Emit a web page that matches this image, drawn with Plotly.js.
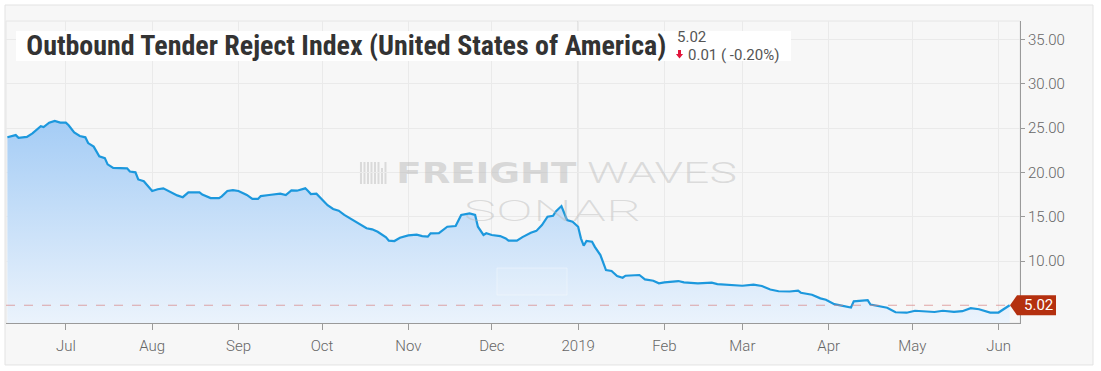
<!DOCTYPE html>
<html>
<head>
<meta charset="utf-8">
<script src="https://cdn.plot.ly/plotly-3.0.1.min.js"></script>
<style>
  html, body { margin: 0; padding: 0; background: #ffffff; }
  #chart { width: 1101px; height: 371px; }
</style>
</head>
<body>
<div id="chart"></div>
<script>
// ---- data ----
const dates = [
  '2018-06-10','2018-06-13','2018-06-14','2018-06-17','2018-06-19','2018-06-22','2018-06-23','2018-06-25','2018-06-27','2018-06-29',
  '2018-07-01','2018-07-02','2018-07-04','2018-07-06','2018-07-08','2018-07-09','2018-07-11','2018-07-13','2018-07-15','2018-07-16',
  '2018-07-18','2018-07-23','2018-07-24','2018-07-26','2018-07-27','2018-07-29','2018-08-01','2018-08-03','2018-08-05','2018-08-08',
  '2018-08-10','2018-08-12','2018-08-14','2018-08-18','2018-08-19','2018-08-22','2018-08-25','2018-08-26','2018-08-28','2018-08-30',
  '2018-09-01','2018-09-04','2018-09-06','2018-09-08','2018-09-09','2018-09-12','2018-09-15','2018-09-16','2018-09-18','2018-09-20',
  '2018-09-22','2018-09-25','2018-09-26','2018-09-27','2018-09-29','2018-10-01','2018-10-03','2018-10-05','2018-10-07','2018-10-09',
  '2018-10-12','2018-10-13','2018-10-15','2018-10-17','2018-10-19','2018-10-21','2018-10-24','2018-10-25','2018-10-27','2018-10-29',
  '2018-11-01','2018-11-04','2018-11-06','2018-11-08','2018-11-09','2018-11-12','2018-11-15','2018-11-18','2018-11-20','2018-11-22',
  '2018-11-23','2018-11-25','2018-11-26','2018-11-28','2018-11-29','2018-12-01','2018-12-04','2018-12-06','2018-12-07','2018-12-10',
  '2018-12-12','2018-12-15','2018-12-17','2018-12-19','2018-12-21','2018-12-23','2018-12-24','2018-12-26','2018-12-28','2018-12-30',
  '2019-01-01','2019-01-02','2019-01-03','2019-01-04','2019-01-06','2019-01-07','2019-01-09','2019-01-11','2019-01-13','2019-01-15',
  '2019-01-17','2019-01-18','2019-01-23','2019-01-25','2019-01-28','2019-01-30','2019-02-01','2019-02-06','2019-02-08','2019-02-13',
  '2019-02-18','2019-02-20','2019-02-25','2019-03-01','2019-03-05','2019-03-08','2019-03-11','2019-03-14','2019-03-18','2019-03-21',
  '2019-03-22','2019-03-26','2019-03-29','2019-03-31','2019-04-03','2019-04-08','2019-04-09','2019-04-10','2019-04-15','2019-04-16',
  '2019-04-20','2019-04-22','2019-04-25','2019-04-29','2019-05-02','2019-05-05','2019-05-09','2019-05-12','2019-05-16','2019-05-19',
  '2019-05-22','2019-05-25','2019-05-29','2019-06-01','2019-06-04','2019-06-05'
];
const rejectIndex = [
  23.95,24.2,23.9,24.0,24.4,25.2,25.1,25.6,25.8,25.6,
  25.6,25.3,24.5,24.1,23.95,23.3,22.9,21.8,21.6,20.9,
  20.5,20.45,20.1,20.0,19.2,19.0,17.9,18.1,18.2,17.7,
  17.4,17.2,17.75,17.75,17.5,17.1,17.1,17.3,17.9,18.0,
  17.9,17.45,17.0,17.0,17.33,17.45,17.5,17.6,17.45,17.97,
  17.93,18.2,17.9,17.55,17.6,16.96,16.3,15.87,15.68,15.2,
  14.6,14.44,14.06,13.7,13.58,13.3,12.68,12.3,12.26,12.63,
  12.9,12.97,12.82,12.75,13.13,13.16,13.87,13.95,15.2,15.3,
  15.38,15.2,13.87,12.94,13.13,12.94,12.82,12.56,12.3,12.3,
  12.7,13.2,13.4,14.06,15.0,15.1,15.6,16.2,14.63,14.44,
  13.87,12.56,11.73,12.26,12.18,11.6,10.68,8.99,8.88,8.32,
  8.12,8.35,8.43,7.94,7.78,7.49,7.6,7.75,7.6,7.49,
  7.56,7.41,7.30,7.22,7.34,7.19,6.8,6.6,6.57,6.66,
  6.43,6.2,5.8,5.65,5.14,4.9,4.77,5.46,5.6,5.1,
  4.82,4.74,4.23,4.18,4.4,4.32,4.26,4.4,4.28,4.35,
  4.69,4.57,4.2,4.2,4.79,5.02
];
const tickDates = ['2018-07-01','2018-08-01','2018-09-01','2018-10-01','2018-11-01','2018-12-01',
                   '2019-01-01','2019-02-01','2019-03-01','2019-04-01','2019-05-01','2019-06-01'];
const tickLabels = ['Jul','Aug','Sep','Oct','Nov','Dec','2019','Feb','Mar','Apr','May','Jun'];
const yTicks = [10, 15, 20, 25, 30, 35];
const chartTitle = 'Outbound Tender Reject Index (United States of America)';
const changeAbs = '0.01';
const changePct = '-0.20%';

// ---- derived ----
const lastValue = rejectIndex[rejectIndex.length - 1];
const lastLabel = lastValue.toFixed(2);

const trace = {
  x: dates, y: rejectIndex, type: 'scatter', mode: 'lines',
  line: { color: '#1c98dd', width: 2.2 },
  fill: 'tozeroy',
  fillgradient: { type: 'vertical', start: 3, stop: 26,
    colorscale: [[0, 'rgb(235,243,252)'], [1, 'rgb(164,204,245)']] },
  hoverinfo: 'skip'
};

// logo bars of the watermark (decoration)
let logoPath = '';
const barH = [22, 22, 22, 22, 22, 22, 16, 22];
for (let i = 0; i < barH.length; i++) {
  const x0 = i * 3.5, x1 = x0 + 2;
  logoPath += `M ${x0},0 L ${x1},0 L ${x1},${barH[i]} L ${x0},${barH[i]} Z `;
}

const shapes = [
  // card
  { type: 'rect', xref: 'paper', yref: 'paper', x0: -0.001, x1: 1.072, y0: -0.139, y1: 1.053,
    fillcolor: '#f7f7f7', line: { color: '#e3e3e3', width: 1 }, layer: 'below' },
  // plot frame
  { type: 'rect', xref: 'paper', yref: 'paper', x0: 0, x1: 1, y0: 0, y1: 1,
    fillcolor: 'rgba(0,0,0,0)', line: { color: '#e6e6e6', width: 1 }, layer: 'below' },
  // year separator
  { type: 'line', xref: 'x', yref: 'paper', x0: tickDates[6], x1: tickDates[6], y0: 0, y1: 1,
    line: { color: '#c6c6c6', width: 1 }, layer: 'below' },
  // logo
  { type: 'path', xref: 'paper', yref: 'paper', xsizemode: 'pixel', ysizemode: 'pixel',
    xanchor: 0.3491, yanchor: 0.4603, path: logoPath,
    fillcolor: 'rgba(190,190,190,0.5)', line: { width: 0 }, layer: 'below' },
  // faint box
  { type: 'rect', xref: 'paper', yref: 'paper', x0: 0.4842, x1: 0.5533, y0: 0.0927, y1: 0.1821,
    fillcolor: 'rgba(255,255,255,0.1)', line: { color: 'rgba(255,255,255,0.35)', width: 1 }, layer: 'above' },
  // last value dashed line
  { type: 'line', xref: 'paper', yref: 'y', x0: 0, x1: 1, y0: lastValue, y1: lastValue,
    line: { color: 'rgba(215,130,130,0.7)', width: 1, dash: 'dash' }, layer: 'above' },
  // title box
  { type: 'rect', xref: 'paper', yref: 'paper', x0: 0.00986, x1: 0.7742, y0: 0.8675, y1: 0.9669,
    fillcolor: '#ffffff', line: { width: 0 }, layer: 'above' },
  // red down arrow
  { type: 'path', xref: 'paper', yref: 'paper', xsizemode: 'pixel', ysizemode: 'pixel',
    xanchor: 0.6642, yanchor: 0.8907,
    path: 'M -1.5,4 L 1.5,4 L 1.5,0 L 3.6,0 L 0,-4.5 L -3.6,0 L -1.5,0 Z',
    fillcolor: '#e2163c', line: { width: 0 }, layer: 'above' },
  // last value tag
  { type: 'path', xref: 'paper', yref: 'y', xsizemode: 'pixel', ysizemode: 'pixel',
    xanchor: 1, yanchor: lastValue,
    path: 'M -10,0 L -3,10 L 36,10 L 36,-10 L -3,-10 Z',
    fillcolor: '#b4300f', line: { width: 0 }, layer: 'above' }
];

const annotations = [
  { xref: 'paper', yref: 'paper', x: 0.474, y: 0.4957, text: 'FREIGHT', showarrow: false,
    xanchor: 'center', yanchor: 'middle',
    font: { family: 'DejaVu Sans', size: 29, weight: 700, color: 'rgba(185,185,185,0.5)' } },
  { xref: 'paper', yref: 'paper', x: 0.6466, y: 0.4957, text: 'WAVES', showarrow: false,
    xanchor: 'center', yanchor: 'middle',
    font: { family: 'Roboto', size: 29, weight: 300, color: 'rgba(185,185,185,0.45)' } },
  { xref: 'paper', yref: 'paper', x: 0.539, y: 0.3715, text: 'SONAR', showarrow: false,
    xanchor: 'center', yanchor: 'middle',
    font: { family: 'DejaVu Sans ExtraLight, Roboto', size: 30, weight: 200, color: 'rgba(185,185,185,0.45)' } },
  { xref: 'paper', yref: 'paper', x: 0.3359, y: 0.9205, text: chartTitle, showarrow: false,
    xanchor: 'center', yanchor: 'middle',
    font: { family: 'Roboto Condensed, Liberation Sans Narrow, Roboto', size: 28, weight: 700, color: '#333333' } },
  { xref: 'paper', yref: 'paper', x: 0.6607, y: 0.948, text: lastLabel, showarrow: false,
    xanchor: 'left', yanchor: 'middle', borderpad: 0,
    font: { family: 'Roboto', size: 15, color: '#555555' } },
  { xref: 'paper', yref: 'paper', x: 0.6716, y: 0.8874, text: changeAbs + ' ( ' + changePct + ')', showarrow: false,
    xanchor: 'left', yanchor: 'middle', borderpad: 0,
    font: { family: 'Roboto', size: 15, color: '#555555' } },
  { xref: 'paper', yref: 'y', x: 1.0178, y: lastValue, text: lastLabel, showarrow: false,
    xanchor: 'center', yanchor: 'middle',
    font: { family: 'Roboto', size: 15, color: '#ffffff' } }
];

const layout = {
  width: 1101, height: 371,
  margin: { l: 6, r: 81, t: 21, b: 48 },
  paper_bgcolor: '#ffffff', plot_bgcolor: '#f7f7f7',
  showlegend: false, hovermode: false,
  font: { family: 'Roboto', color: '#6a6a6a' },
  xaxis: {
    type: 'date', range: ['2018-06-09 12:00', '2019-06-08 17:00'],
    tickvals: tickDates, ticktext: tickLabels,
    ticks: 'outside', ticklen: 6, tickcolor: '#9a9a9a', ticklabelstandoff: 3,
    showline: true, linecolor: '#9a9a9a', linewidth: 1,
    showgrid: true, gridcolor: '#eaeaea', zeroline: false,
    tickfont: { family: 'Roboto', size: 15, weight: 300, color: '#666666' }
  },
  yaxis: {
    side: 'right', range: [3.02, 37.06],
    tickvals: yTicks, tickformat: '.2f',
    ticks: 'outside', ticklen: 4, tickcolor: '#9a9a9a',
    showline: true, linecolor: '#9a9a9a', linewidth: 1,
    showgrid: true, gridcolor: '#eaeaea', zeroline: false,
    tickfont: { family: 'Roboto', size: 15, weight: 300, color: '#666666' }
  },
  shapes: shapes,
  annotations: annotations
};

Plotly.newPlot('chart', [trace], layout, { staticPlot: true, displayModeBar: false }).then(function () {
  const fits = {};
  fits[chartTitle] = [640, 'spacingAndGlyphs'];
  fits['FREIGHT'] = [180, 'spacingAndGlyphs'];
  fits['WAVES'] = [150, 'spacingAndGlyphs'];
  fits['SONAR'] = [178, 'spacingAndGlyphs'];
  document.querySelectorAll('text.annotation-text').forEach(function (t) {
    const f = fits[t.textContent];
    if (f) {
      t.setAttribute('textLength', f[0]);
      t.setAttribute('lengthAdjust', f[1]);
    }
  });
});
</script>
</body>
</html>
